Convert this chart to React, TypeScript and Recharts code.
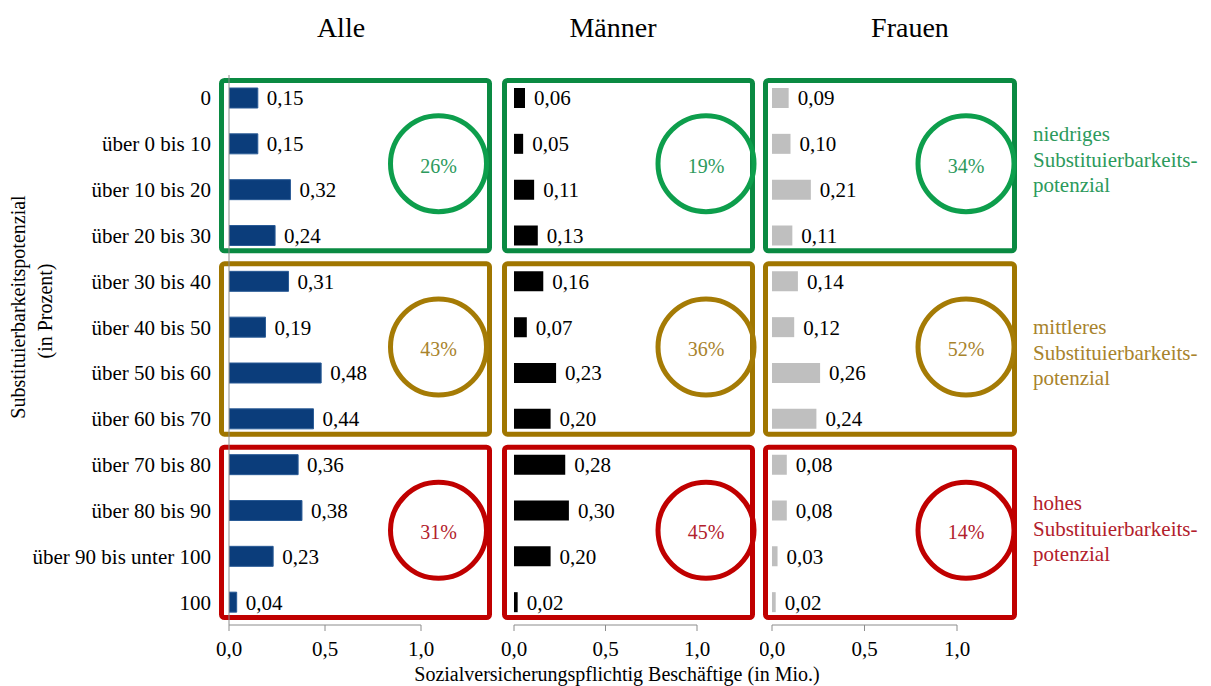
import { Bar, BarChart, LabelList, ReferenceArea, XAxis, YAxis } from "recharts";

const bands = [
  "0",
  "über 0 bis 10",
  "über 10 bis 20",
  "über 20 bis 30",
  "über 30 bis 40",
  "über 40 bis 50",
  "über 50 bis 60",
  "über 60 bis 70",
  "über 70 bis 80",
  "über 80 bis 90",
  "über 90 bis unter 100",
  "100",
];

const alle = [0.15, 0.15, 0.32, 0.24, 0.31, 0.19, 0.48, 0.44, 0.36, 0.38, 0.23, 0.04];
const maenner = [0.06, 0.05, 0.11, 0.13, 0.16, 0.07, 0.23, 0.2, 0.28, 0.3, 0.2, 0.02];
const frauen = [0.09, 0.1, 0.21, 0.11, 0.14, 0.12, 0.26, 0.24, 0.08, 0.08, 0.03, 0.02];

const alleShares = [26, 43, 31];
const maennerShares = [19, 36, 45];
const frauenShares = [34, 52, 14];

const groupFrom = ["0", "über 30 bis 40", "über 70 bis 80"];
const groupTo = ["über 20 bis 30", "über 60 bis 70", "100"];
const groupNames = ["niedriges", "mittleres", "hohes"];

const xTicks = [0, 0.5, 1];

const FONT = "'Liberation Serif', 'Times New Roman', serif";
const AXIS = "#8c8c8c";

// box colour, circle colour, text colour per group
const groupColors = [
  { box: "#0a8a42", ring: "#0d9e4c", text: "#2c9a5c" },
  { box: "#a07600", ring: "#a57b05", text: "#a8832c" },
  { box: "#c00000", ring: "#c00000", text: "#b2202c" },
];

const comma = (digits: number) => (v: number) => Number(v).toFixed(digits).replace(".", ",");

type PanelCfg = {
  title: string;
  values: number[];
  shares: number[];
  fill: string;
  stroke?: string;
  left: number;
  width: number;
  marginLeft: number;
  marginRight: number;
  showCategories: boolean;
  padL: number;
  padR: number;
  ringInset: number;
};

const panels: PanelCfg[] = [
  {
    title: "Alle",
    values: alle,
    shares: alleShares,
    fill: "#0b3d7b",
    stroke: "#2a5b96",
    left: 0,
    width: 500,
    marginLeft: 0,
    marginRight: 79,
    showCategories: true,
    padL: 7.5,
    padR: 68.5,
    ringInset: 51,
  },
  {
    title: "Männer",
    values: maenner,
    shares: maennerShares,
    fill: "#000000",
    left: 500,
    width: 260,
    marginLeft: 14,
    marginRight: 63,
    showCategories: false,
    padL: 9.5,
    padR: 55.5,
    ringInset: 46.5,
  },
  {
    title: "Frauen",
    values: frauen,
    shares: frauenShares,
    fill: "#bfbfbf",
    left: 760,
    width: 260,
    marginLeft: 12,
    marginRight: 63,
    showCategories: false,
    padL: 6.5,
    padR: 57.5,
    ringInset: 48.5,
  },
];

function GroupBox(props: any) {
  const { x, y, width, height, padL, padR, ringInset, color, share } = props;
  if (x == null || y == null) return null;
  const rx = x - padL;
  const rw = width + padL + padR;
  const ry = y + 5.5;
  const rh = height - 13;
  const cx = rx + rw - ringInset;
  const cy = ry + rh / 2 - 2;
  return (
    <g>
      <rect x={rx} y={ry} width={rw} height={rh} rx={3} fill="none" stroke={color.box} strokeWidth={5} />
      <circle cx={cx} cy={cy} r={48} fill="none" stroke={color.ring} strokeWidth={5} />
      <text
        x={cx}
        y={cy + 2}
        textAnchor="middle"
        dominantBaseline="central"
        fontFamily={FONT}
        fontSize={20}
        fill={color.text}
      >
        {share}%
      </text>
    </g>
  );
}

function Panel({ cfg }: { cfg: PanelCfg }) {
  const data = bands.map((band, i) => ({ band, value: cfg.values[i] }));
  return (
    <div style={{ position: "absolute", left: cfg.left, top: 0 }}>
      <BarChart
        width={cfg.width}
        height={686}
        data={data}
        layout="vertical"
        margin={{ top: 75, right: cfg.marginRight, bottom: 0, left: cfg.marginLeft }}
      >
        <XAxis
          type="number"
          domain={[0, 1]}
          ticks={xTicks}
          interval={0}
          tickFormatter={comma(1)}
          height={61}
          stroke={AXIS}
          tickSize={6}
          tickMargin={10}
          tick={{ fill: "#000", fontSize: 21, fontFamily: FONT }}
          allowDataOverflow
        />
        <YAxis
          type="category"
          dataKey="band"
          hide={!cfg.showCategories}
          width={229}
          stroke={AXIS}
          tickLine={false}
          tickSize={6}
          tickMargin={12}
          interval={0}
          tick={{ fill: "#000", fontSize: 21, fontFamily: FONT }}
        />
        {groupNames.map((g, i) => (
          <ReferenceArea
            key={g}
            x1={0}
            x2={1}
            y1={groupFrom[i]}
            y2={groupTo[i]}
            ifOverflow="visible"
            shape={(p: any) => (
              <GroupBox
                {...p}
                padL={cfg.padL}
                padR={cfg.padR}
                ringInset={cfg.ringInset}
                color={groupColors[i]}
                share={cfg.shares[i]}
              />
            )}
          />
        ))}
        <Bar
          dataKey="value"
          fill={cfg.fill}
          stroke={cfg.stroke}
          strokeWidth={cfg.stroke ? 1 : 0}
          barSize={20}
          isAnimationActive={false}
        >
          <LabelList
            dataKey="value"
            position="right"
            offset={9}
            formatter={comma(2) as any}
            style={{ fill: "#000", fontSize: 21, fontFamily: FONT }}
          />
        </Bar>
      </BarChart>
    </div>
  );
}

const sideLabels = [
  { lines: ["niedriges", "Substituierbarkeits-", "potenzial"], y: 134 },
  { lines: ["mittleres", "Substituierbarkeits-", "potenzial"], y: 327 },
  { lines: ["hohes", "Substituierbarkeits-", "potenzial"], y: 503 },
];

export default function App() {
  return (
    <div
      style={{
        position: "absolute",
        left: 0,
        top: 0,
        width: 1211,
        height: 686,
        background: "#fff",
        overflow: "hidden",
        fontFamily: FONT,
      }}
    >
      <svg width={1211} height={686} style={{ position: "absolute", left: 0, top: 0 }}>
        <g fontFamily={FONT} fill="#000">
          <text x={341} y={37} fontSize={28} textAnchor="middle">Alle</text>
          <text x={613} y={37} fontSize={28} textAnchor="middle">Männer</text>
          <text x={910} y={37} fontSize={28} textAnchor="middle">Frauen</text>
          <text
            transform="translate(18,307) rotate(-90)"
            fontSize={20}
            textAnchor="middle"
            dominantBaseline="central"
          >
            Substituierbarkeitspotenzial
          </text>
          <text
            transform="translate(45,311) rotate(-90)"
            fontSize={20}
            textAnchor="middle"
            dominantBaseline="central"
          >
            (in Prozent)
          </text>
          <text x={617} y={681} fontSize={20} textAnchor="middle">
            Sozialversicherungspflichtig Beschäftige (in Mio.)
          </text>
        </g>
        {sideLabels.map((s, i) => (
          <text key={i} fontFamily={FONT} fontSize={21} fill={groupColors[i].text}>
            {s.lines.map((line, j) => (
              <tspan key={j} x={1033} y={s.y + j * 25.5} dominantBaseline="central">
                {line}
              </tspan>
            ))}
          </text>
        ))}
      </svg>
      {panels.map((p) => (
        <Panel key={p.title} cfg={p} />
      ))}
    </div>
  );
}
